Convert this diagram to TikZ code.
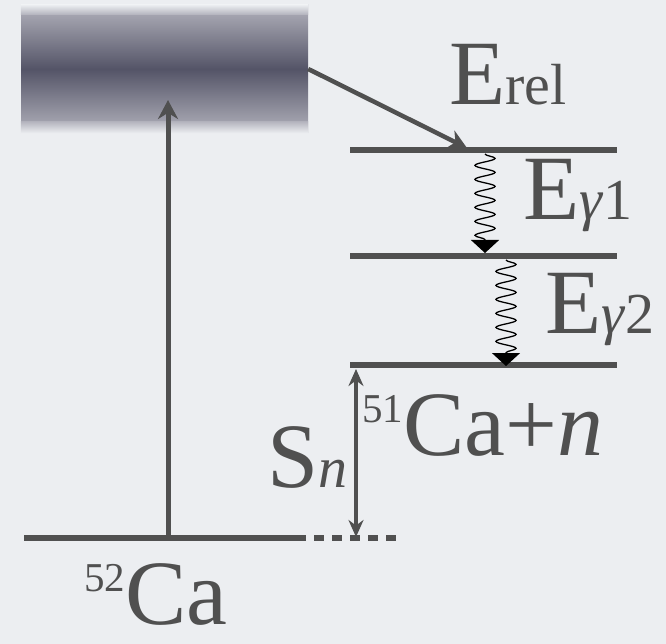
\documentclass[tikz,border=0pt]{standalone}
\usepackage{fontspec}
\setmainfont{Liberation Serif}
\usetikzlibrary{arrows.meta,positioning,decorations.pathmorphing}
\definecolor{lvl}{HTML}{505050}
\definecolor{bgc}{HTML}{ECEEF1}
\definecolor{boxdark}{HTML}{545467}
\definecolor{boxlight}{HTML}{B2B2BC}
\newcommand{\bigsz}{\fontsize{92}{96}\selectfont}
\newcommand{\subsz}{\fontsize{58}{60}\selectfont}
\newcommand{\supnum}[1]{\raisebox{33pt}{\fontsize{41}{41}\selectfont #1}}

\begin{document}
\begin{tikzpicture}[x=1pt,y=-1pt,
  level/.style={line width=5.5pt,lvl},
  garrow/.style={line width=5pt,lvl,-{Stealth[length=19pt,width=20pt]}},
  gamma/.style={black,line width=1.3pt,decorate,
    decoration={snake,amplitude=10pt,segment length=14pt,post length=11pt},
    -{Triangle[length=13pt,width=28pt]}},
  lbl/.style={inner sep=0pt,anchor=base west,text=lvl,font=\bigsz}]
\useasboundingbox (0,0) rectangle (666,644);
\fill[bgc] (0,0) rectangle (666,644);
% continuum
\node[inner sep=0pt,minimum width=287pt,minimum height=128pt,
  top color=boxlight,bottom color=boxlight,middle color=boxdark] (cont) at (164.5,69) {};
\shade[top color=bgc,bottom color=boxlight] (cont.north west) rectangle ([yshift=-10pt]cont.north east);
\shade[top color=boxlight,bottom color=bgc] ([yshift=12pt]cont.south west) rectangle (cont.south east);
% levels
\coordinate (gL) at (24,538);
\coordinate (gM) at (296,538);
\coordinate (gR) at (398,538);
\coordinate (aL) at (350,150); \coordinate (aR) at (617,150);
\coordinate (bL) at (350,256); \coordinate (bR) at (617,256);
\coordinate (cL) at (350,365); \coordinate (cR) at (617,365);
\draw[level] (gL) -- (gM);
\draw[level,dash pattern=on 10pt off 8pt] (gM) -- (gR);
\draw[level] (aL) -- (aR);
\draw[level] (bL) -- (bR);
\draw[level] (cL) -- (cR);
% arrows
\coordinate (exc0) at (168,538);
\coordinate (exc1) at (168,100);
\draw[garrow] (exc0) -- (exc1);
\coordinate (hit) at (467,148);
\draw[garrow,line width=4.5pt] (cont.east) -- (hit);
\coordinate (g1a) at (485,154);
\coordinate (g1b) at (485,253);
\coordinate (g2a) at (506,260);
\coordinate (g2b) at (506,366);
\draw[gamma] (g1a) -- (g1b);
\draw[gamma] (g2a) -- (g2b);
\coordinate (snT) at (356,369);
\coordinate (snB) at (356,537);
\draw[line width=4pt,lvl,{Stealth[length=17pt,width=15pt]}-{Stealth[length=17pt,width=15pt]}] (snT) -- (snB);
% labels
\node[lbl] (erel) at (449,105) {E{\subsz rel}};
\node[lbl] (eg1) at (523,220) {E{\subsz\textit{γ}1}};
\node[lbl] (eg2) at (545,333) {E{\subsz\textit{γ}2}};
\node[lbl] (thr) at (362,455) {\supnum{51}Ca+\textit{n}};
\node[lbl] (sn) at (267,487) {S{\subsz\textit{n}}};
\node[lbl] (gs) at (84,624) {\supnum{52}Ca};
\end{tikzpicture}
\end{document}
